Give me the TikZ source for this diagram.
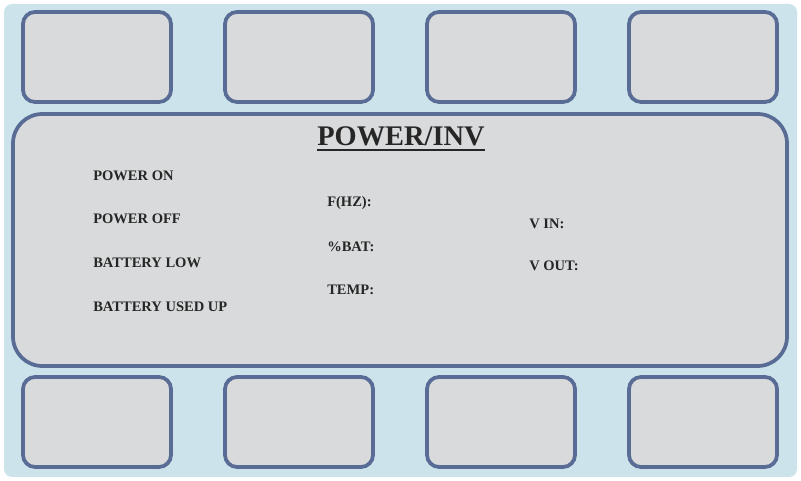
\documentclass[tikz,border=0pt]{standalone}
\usepackage{fontspec}
\setmainfont{Liberation Serif}
\definecolor{panelblue}{HTML}{CCE3EC}
\definecolor{keyfill}{HTML}{D9DADB}
\definecolor{keyline}{HTML}{586C96}
\definecolor{labeltext}{HTML}{262626}
\tikzset{
  keybox/.style={draw=keyline, fill=keyfill, line width=2.8pt, rounded corners=9pt},
  lbl/.style={anchor=west, inner sep=0pt, text=labeltext, font=\fontsize{10.9}{13}\selectfont\bfseries}
}
\begin{document}
\begin{tikzpicture}[x=0.75pt, y=-0.75pt]
\useasboundingbox (0,0) rectangle (801,481);
\fill[panelblue, rounded corners=6pt] (4,4) rectangle (797,477);
% top row of keys
\draw[keybox] (23,12) rectangle (171,102);
\draw[keybox] (225,12) rectangle (373,102);
\draw[keybox] (427,12) rectangle (575,102);
\draw[keybox] (629,12) rectangle (777,102);
% display
\draw[keybox, rounded corners=22pt] (13,114) rectangle (787,366);
\node[inner sep=0pt, text=labeltext, font=\fontsize{21.3}{24}\selectfont\bfseries] (title) at (401,136) {POWER/INV};
\draw[labeltext, line width=1.3pt] ([yshift=-3pt]title.south west) -- ([yshift=-3pt]title.south east);
\node[lbl] (pwron) at (93,175.5) {POWER ON};
\node[lbl] (pwroff) at (93,219) {POWER OFF};
\node[lbl] (batlow) at (93,263) {BATTERY LOW};
\node[lbl] (batused) at (93,306.5) {BATTERY USED UP};
\node[lbl] (freq) at (327,203) {F(HZ):};
\node[lbl] (batpct) at (327,247) {\%BAT:};
\node[lbl] (temp) at (327,290) {TEMP:};
\node[lbl] (vin) at (529,223.5) {V IN:};
\node[lbl] (vout) at (529,265.5) {V OUT:};
% bottom row of keys
\draw[keybox] (23,377) rectangle (171,467);
\draw[keybox] (225,377) rectangle (373,467);
\draw[keybox] (427,377) rectangle (575,467);
\draw[keybox] (629,377) rectangle (777,467);
\end{tikzpicture}
\end{document}
